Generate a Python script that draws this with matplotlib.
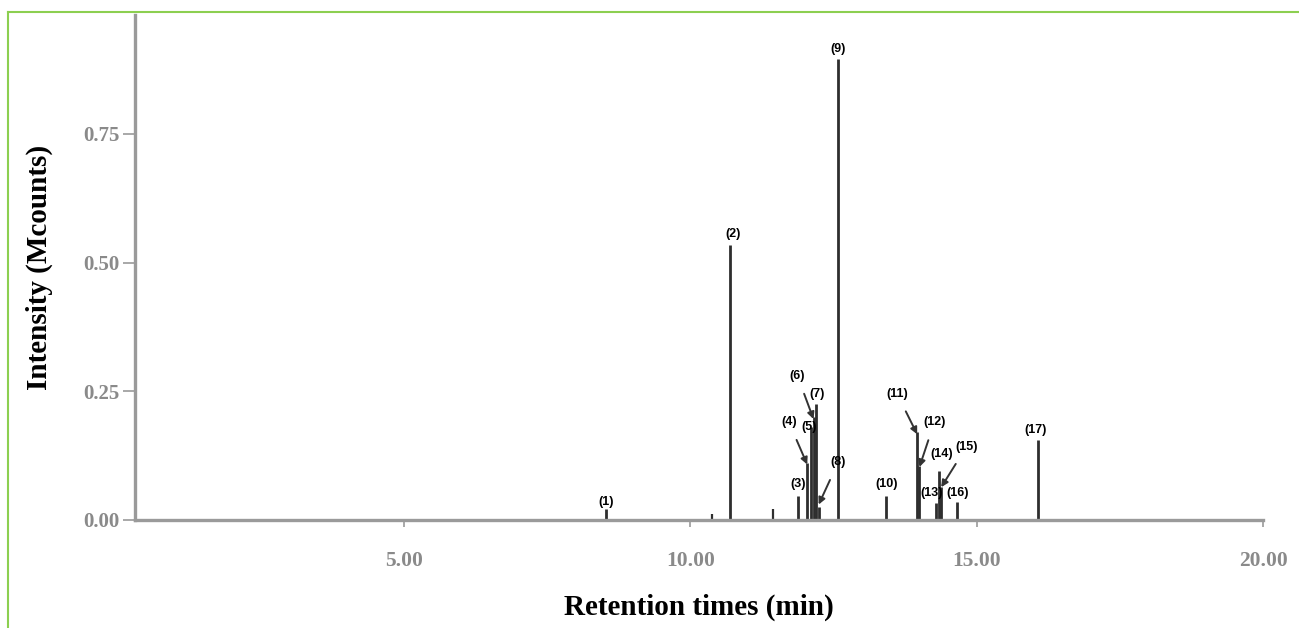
import matplotlib.pyplot as plt
from matplotlib.lines import Line2D

# peak table: retention time (min), intensity (Mcounts)
peak_ids = ["(1)", "(2)", "(3)", "(4)", "(5)", "(6)", "(7)", "(8)", "(9)",
            "(10)", "(11)", "(12)", "(13)", "(14)", "(15)", "(16)", "(17)"]
peak_rt = [8.53, 10.70, 11.88, 12.04, 12.11, 12.15, 12.20, 12.24, 12.58,
           13.42, 13.96, 14.00, 14.29, 14.35, 14.38, 14.66, 16.07]
peak_h = [0.022, 0.535, 0.047, 0.11, 0.18, 0.20, 0.225, 0.025, 0.895,
          0.047, 0.17, 0.105, 0.033, 0.095, 0.065, 0.035, 0.155]

# unlabelled minor peaks
minor_rt = [10.38, 11.45]
minor_h = [0.012, 0.022]

# label placement (text x, text y, arrow?)
label_pos = [(8.53, 0.035, False), (10.75, 0.555, False), (11.88, 0.07, False),
             (11.72, 0.19, True), (12.07, 0.18, False), (11.87, 0.28, True),
             (12.22, 0.245, False), (12.58, 0.112, True), (12.58, 0.915, False),
             (13.42, 0.07, False), (13.61, 0.245, True), (14.26, 0.19, True),
             (14.22, 0.052, False), (14.39, 0.128, False), (14.82, 0.142, True),
             (14.66, 0.052, False), (16.03, 0.175, False)]

xticks = [5, 10, 15, 20]
xtick_labels = ["5.00", "10.00", "15.00", "20.00"]
yticks = [0, 0.25, 0.5, 0.75]
ytick_labels = ["0.00", "0.25", "0.50", "0.75"]

fig = plt.figure(figsize=(12.99, 6.28), dpi=100)
ax = fig.add_axes([0.1039, 0.172, 0.8684, 0.804])

trace = "#2e2e2e"
ax.vlines(peak_rt, 0, peak_h, colors=trace, linewidth=2.0)
ax.vlines(minor_rt, 0, minor_h, colors=trace, linewidth=1.6)

for pid, rt, h, (tx, ty, arrow) in zip(peak_ids, peak_rt, peak_h, label_pos):
    if arrow:
        ax.annotate(pid, xy=(rt, h * 0.98 if pid != "(8)" else 0.03), xytext=(tx, ty),
                    ha="center", va="center", fontsize=9, fontweight="bold",
                    family="Liberation Sans",
                    arrowprops=dict(arrowstyle="-|>", color="#333333", lw=1.4,
                                    shrinkA=7, shrinkB=0, mutation_scale=10))
    else:
        ax.text(tx, ty, pid, ha="center", va="center", fontsize=9,
                fontweight="bold", family="Liberation Sans")

ax.set_xlim(0.3, 20.0)
ax.set_ylim(0, 0.981)
for side in ["top", "right"]:
    ax.spines[side].set_visible(False)
for side in ["left", "bottom"]:
    ax.spines[side].set_color("#9a9a9a")
    ax.spines[side].set_linewidth(2.4)

ax.set_xticks(xticks)
ax.set_xticklabels(xtick_labels, family="Liberation Serif", fontweight="bold",
                   fontsize=15.5, color="#8a8a8a")
ax.set_yticks(yticks)
ax.set_yticklabels(ytick_labels, family="Liberation Serif", fontweight="bold",
                   fontsize=15, color="#8a8a8a")
ax.tick_params(axis="x", length=5, width=1.2, color="#9a9a9a", pad=17)
ax.tick_params(axis="y", length=9, width=1.2, color="#9a9a9a", pad=2)

ax.set_xlabel("Retention times (min)", family="Liberation Serif", fontweight="bold",
              fontsize=21, labelpad=17)
ax.set_ylabel("Intensity (Mcounts)", family="Liberation Serif", fontweight="bold",
              fontsize=21, labelpad=22)

# green frame around the figure (top and left visible)
green = "#8ccf50"
fig.add_artist(Line2D([8 / 1299, 1], [1 - 12 / 628, 1 - 12 / 628],
                      transform=fig.transFigure, color=green, lw=1.5))
fig.add_artist(Line2D([8 / 1299, 8 / 1299], [0, 1 - 12 / 628],
                      transform=fig.transFigure, color=green, lw=1.5))

fig.savefig("out.png", dpi=100)
